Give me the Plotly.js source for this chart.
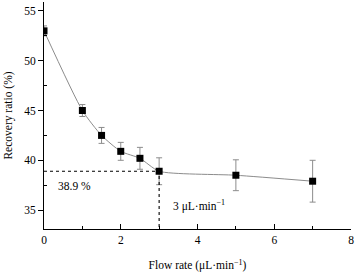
<!DOCTYPE html>
<html><head><meta charset="utf-8">
<script src="https://cdn.plot.ly/plotly-3.0.1.min.js"></script>
<style>html,body{margin:0;padding:0;background:#fff}#c{width:355px;height:274px}</style>
</head><body><div id="c"></div>
<script>
const flowRate = [0, 1, 1.5, 2, 2.5, 3, 5, 7];
const recovery = [53.0, 45.0, 42.5, 40.9, 40.2, 38.9, 38.5, 37.9];
const errorBar = [0.5, 0.6, 0.8, 0.9, 1.1, 1.35, 1.55, 2.1];
const markX = 3;
const markY = 38.9;
const markYLabel = '38.9 %';
const markXLabel = '3 μL·min<sup>−1</sup>';

const font = {family: "'Liberation Serif', serif", size: 11.5, color: '#000'};
const traces = [
  {x: flowRate, y: recovery, mode: 'lines', line: {color: '#8c8c8c', width: 1, shape: 'spline', smoothing: 0.6},
   hoverinfo: 'skip', showlegend: false},
  {x: flowRate, y: recovery, mode: 'markers', marker: {symbol: 'square', size: 7, color: '#000'},
   error_y: {type: 'data', array: errorBar, visible: true, color: '#8c8c8c', thickness: 1, width: 3},
   showlegend: false},
  {x: [0, markX, markX], y: [markY, markY, 33.1], mode: 'lines', line: {color: '#000', width: 1.1, dash: 'dot'},
   showlegend: false, hoverinfo: 'skip'}
];
const layout = {
  width: 355, height: 274,
  margin: {l: 44, r: 4, t: 2, b: 45},
  paper_bgcolor: '#fff', plot_bgcolor: '#fff',
  font: font,
  showlegend: false,
  xaxis: {range: [0, 8], tickvals: [0, 2, 4, 6, 8], ticks: 'inside', ticklen: 5, tickcolor: '#000',
    showline: true, linecolor: '#000', linewidth: 1, showgrid: false, zeroline: false, mirror: false,
    minor: {tickvals: [1, 3, 5, 7], ticks: 'inside', ticklen: 3, tickcolor: '#000'},
    tickfont: font,
    title: {text: 'Flow rate (μL·min<sup>−1</sup>)', font: font, standoff: 16}},
  yaxis: {range: [33.1, 55.9], tickvals: [35, 40, 45, 50, 55], ticks: 'outside', ticklen: 5, tickcolor: '#000',
    showline: true, linecolor: '#000', linewidth: 1, showgrid: false, zeroline: false,
    minor: {tickvals: [37.5, 42.5, 47.5, 52.5], ticks: 'inside', ticklen: 3, tickcolor: '#000'},
    tickfont: font,
    title: {text: 'Recovery ratio (%)', font: font, standoff: 9}},
  annotations: [
    {x: 0.3, y: 37.4, xref: 'x', yref: 'y', text: markYLabel, showarrow: false, xanchor: 'left', font: font},
    {x: 3.3, y: 35.5, xref: 'x', yref: 'y', text: markXLabel, showarrow: false, xanchor: 'left', font: font}
  ]
};
Plotly.newPlot('c', traces, layout, {staticPlot: true, displayModeBar: false});
</script></body></html>
